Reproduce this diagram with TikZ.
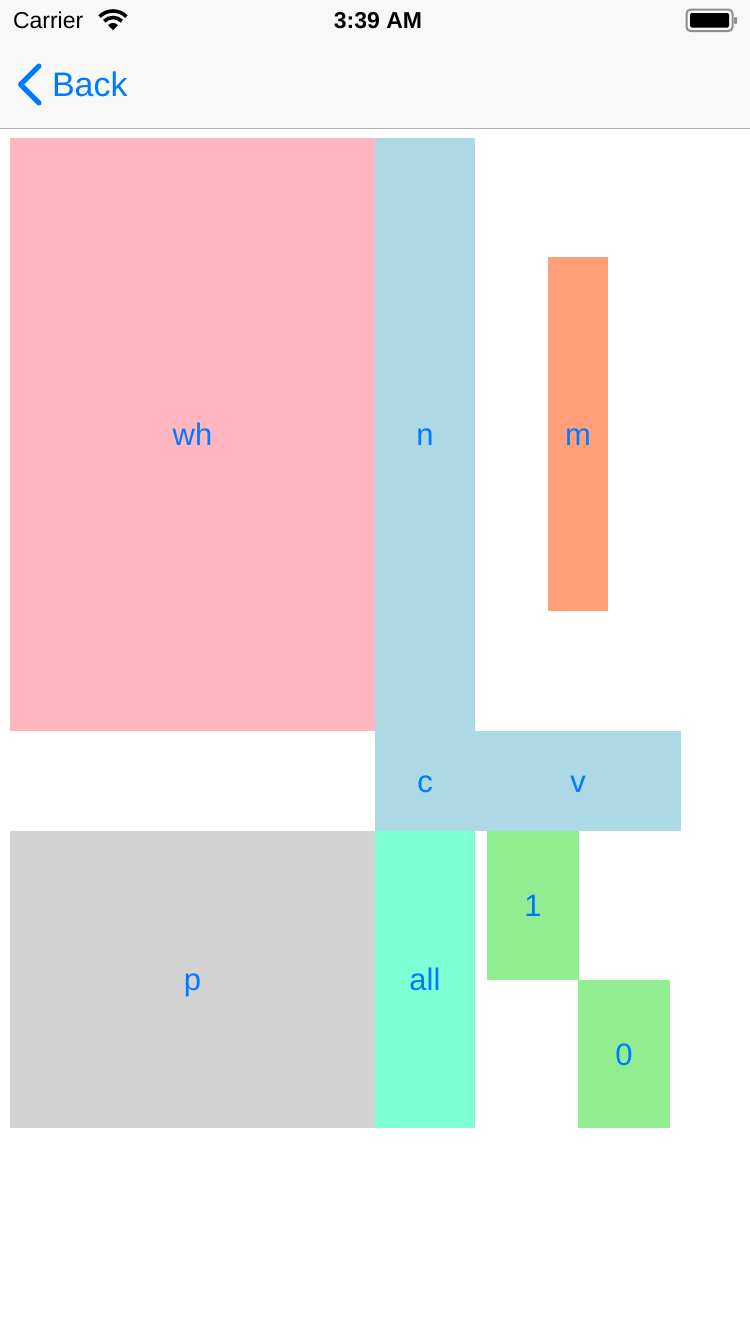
\documentclass[tikz,border=0pt]{standalone}
\usepackage{fontspec}
\setmainfont{Liberation Sans}
\definecolor{iosblue}{HTML}{007AFF}
\definecolor{navbg}{HTML}{F8F8F8}
\definecolor{sepgray}{HTML}{B2B2B2}
\definecolor{cpink}{HTML}{FFB6C1}
\definecolor{cblue}{HTML}{ADD8E6}
\definecolor{csalmon}{HTML}{FFA07A}
\definecolor{cgray}{HTML}{D3D3D3}
\definecolor{caqua}{HTML}{7FFFD4}
\definecolor{cgreen}{HTML}{90EE90}
\definecolor{battgray}{HTML}{8E8E8E}
\tikzset{
  box/.style={inner sep=0pt, outer sep=0pt, draw=none, text=iosblue,
    font=\fontsize{31}{31}\selectfont, text height=22.2pt, text depth=0pt},
  bar/.style={inner sep=0pt, outer sep=0pt, text depth=0pt}
}
\begin{document}
\begin{tikzpicture}[x=1pt,y=-1pt]
\useasboundingbox (0,0) rectangle (750,1334);
\fill[white] (0,0) rectangle (750,1334);
% navigation bar
\fill[navbg] (0,0) rectangle (750,128);
\draw[sepgray, line width=1.2pt] (0,128.5) -- (750,128.5);
% status bar
\node[bar, anchor=west, text height=16.5pt, font=\fontsize{23}{23}\selectfont] (carrier) at (13,20) {Carrier};
\fill (113,30) -- ++(225:7) arc[start angle=225, end angle=315, radius=7] -- cycle;
\draw[line width=3.6pt] ([shift={(225:12.5)}]113,30) arc[start angle=225, end angle=315, radius=12.5];
\draw[line width=3.6pt] ([shift={(225:19)}]113,30) arc[start angle=225, end angle=315, radius=19];
\node[bar, text height=16.5pt, font=\bfseries\fontsize{23}{23}\selectfont] (time) at (378,20) {3:39 AM};
\draw[battgray, line width=2pt, rounded corners=4pt] (686.5,9.5) rectangle (732.5,31);
\fill[black, rounded corners=1.5pt] (690,13) rectangle (729,27.5);
\fill[battgray, rounded corners=1pt] (734,17) rectangle (737,24);
% back button
\draw[iosblue, line width=5pt, line cap=round, line join=round] (39,66) -- (20.5,84.5) -- (39,103);
\node[bar, anchor=west, text height=24.4pt, text=iosblue, font=\fontsize{34}{34}\selectfont] (back) at (52,84.5) {Back};
% content boxes
\node[box, fill=cpink, minimum width=365pt, minimum height=593pt] (wh) at (192.5,434.5) {wh};
\node[box, fill=cblue, minimum width=100pt, minimum height=593pt] (n) at (425,434.5) {n};
\node[box, fill=csalmon, minimum width=60pt, minimum height=354pt] (m) at (578,434) {m};
\node[box, fill=cblue, minimum width=100pt, minimum height=100pt] (c) at (425,781) {c};
\node[box, fill=cblue, minimum width=206pt, minimum height=100pt] (v) at (578,781) {v};
\node[box, fill=cgray, minimum width=365pt, minimum height=297pt] (p) at (192.5,979.5) {p};
\node[box, fill=caqua, minimum width=100pt, minimum height=297pt] (all) at (425,979.5) {all};
\node[box, fill=cgreen, minimum width=92pt, minimum height=149pt] (one) at (533,905.5) {1};
\node[box, fill=cgreen, minimum width=92pt, minimum height=148pt] (zero) at (624,1054) {0};
\end{tikzpicture}
\end{document}
